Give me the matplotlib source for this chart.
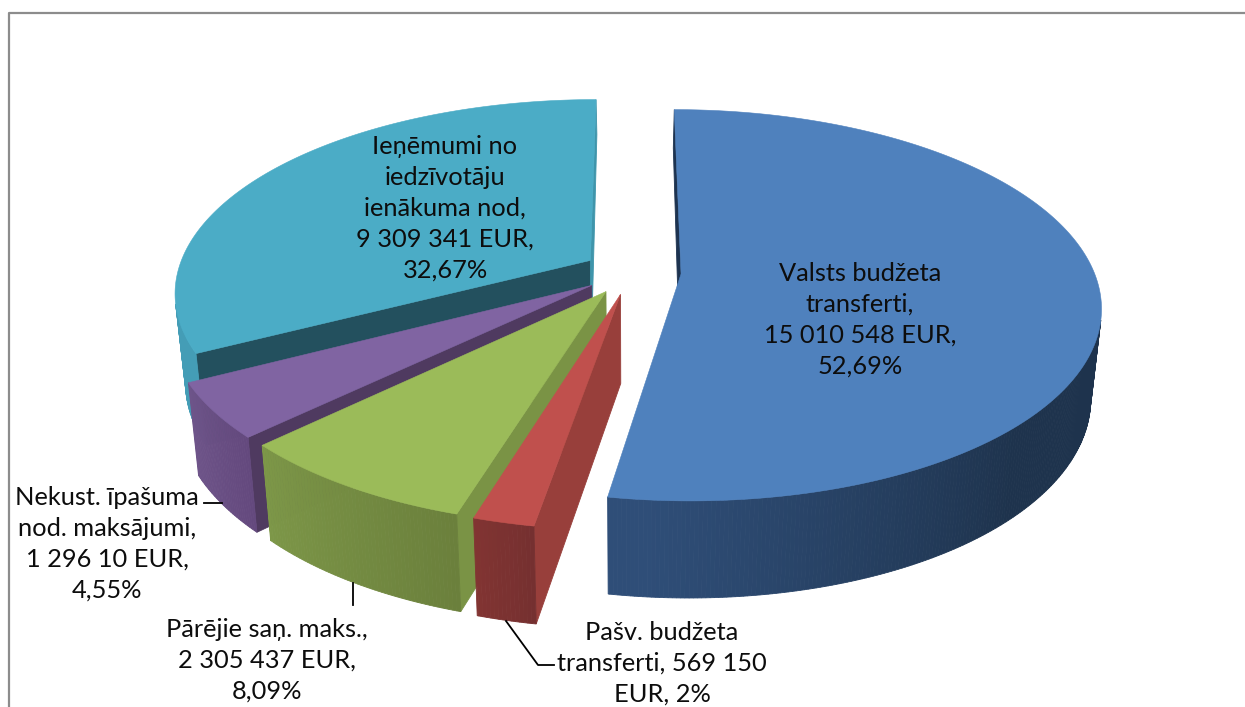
#!/usr/bin/env python
# -*- coding: utf-8 -*-

import numpy as np
from matplotlib import pyplot as plt
from matplotlib.colors import to_rgb

plt.rcParams['font.family'] = ['Lato', 'Noto Sans', 'DejaVu Sans']

# budget shares in percent, clockwise from 12 o'clock
names = ['Valsts budžeta\ntransferti,', 'Pašv. budžeta\ntransferti,', 'Pārējie saņ. maks.,',
         'Nekust. īpašuma\nnod. maksājumi,', 'Ieņēmumi no\niedzīvotāju\nienākuma nod,']
amounts = ['15 010 548 EUR,', '569 150', '2 305 437 EUR,', '1 296 10 EUR,', '9 309 341 EUR,']
percents = ['52,69%', 'EUR, 2%', '8,09%', '4,55%', '32,67%']
shares = [52.69, 2, 8.09, 4.55, 32.67]

top_colors = ['#4f81bd', '#c0504d', '#9bbb59', '#8064a2', '#4bacc6']
cut_colors = ['#1d3350', '#983f3b', '#7a9345', '#4f3a60', '#23505e']
end_colors = ['#1d3350', '#983f3b', '#7a9345', '#4f3a60', '#3f95ab']
wall_left = ['#2f4e78', '#823432', '#7d9748', '#6e5489', '#449db6']
wall_right = ['#1e334d', '#753030', '#6b803c', '#64497e', '#449db6']

# label centres and leader lines, in pixels
label_pos = [(860, 320), (662, 663), (267, 660), (107, 544), (445, 208)]
leaders = [None, [(506, 621), (538, 665), (554, 665)], [(353, 583), (353, 605)],
           [(204, 503), (222, 503)], None]

# projection of the tilted pie
cx, cy = 632, 272
rx, ry = 413, 190
persp = 0.16
explode = 0.119
shrink = 0.977


def project(u, v):
    s = 1 / (1 + persp * v)
    return cx + rx * u * s, cy - ry * v * s


def lower(u, v):
    # same point on the underside of the pie
    x, y = project(u, v)
    if v > 0:
        d = 88 - 50 * v
    else:
        d = 88 - 9 * v
    return cx + (x - cx) * shrink, y + d


def visible(quad):
    # quad is wound so that faces turned to the viewer have a negative area (y points down)
    xs = np.array([p[0] for p in quad])
    ys = np.array([p[1] for p in quad])
    return np.dot(xs, np.roll(ys, -1)) - np.dot(ys, np.roll(xs, -1)) < 0


def draw_quad(ax, quad, color):
    ax.fill([p[0] for p in quad], [p[1] for p in quad], color=color, lw=0.6, zorder=2)


def draw_slice(ax, start, end, i):
    mid = np.radians((start + end) / 2)
    u0, v0 = explode * np.sin(mid), explode * np.cos(mid)
    degs = np.append(np.arange(start, end, 0.5), end)
    angles = np.radians(degs)
    us = u0 + np.sin(angles)
    vs = v0 + np.cos(angles)

    # cut faces
    a = [project(u0, v0), project(us[0], vs[0]), lower(us[0], vs[0]), lower(u0, v0)]
    b = [project(us[-1], vs[-1]), project(u0, v0), lower(u0, v0), lower(us[-1], vs[-1])]
    if visible(a):
        draw_quad(ax, a, cut_colors[i])
    if visible(b):
        draw_quad(ax, b, end_colors[i])

    # rim
    left = np.array(to_rgb(wall_left[i]))
    right = np.array(to_rgb(wall_right[i]))
    for j in range(len(us) - 1):
        quad = [project(us[j], vs[j]), project(us[j + 1], vs[j + 1]),
                lower(us[j + 1], vs[j + 1]), lower(us[j], vs[j])]
        if not visible(quad):
            continue
        if i == 0:
            # blue rim is lit only near its left end
            t = np.clip((degs[j] - 135) / 50, 0, 1)
        else:
            t = j / max(len(us) - 2, 1)
        draw_quad(ax, quad, tuple(right + (left - right) * t))

    # top face
    pts = [project(u0, v0)] + [project(u, v) for u, v in zip(us, vs)]
    ax.fill([p[0] for p in pts], [p[1] for p in pts], color=top_colors[i], lw=0.4, zorder=2)


fig = plt.figure(figsize=(12.45, 7.07), dpi=100)
ax = fig.add_axes([0, 0, 1, 1])
ax.set_xlim(0, 1245)
ax.set_ylim(707, 0)
ax.axis('off')

# frame of the chart area, cut by the edge of the picture
ax.plot([9, 9, 1245], [707, 12.5, 12.5], color='#8c8c8c', lw=1.6, zorder=1)

edges = np.cumsum([0] + shares) * 3.6
for i in [4, 0, 3, 2, 1]:
    draw_slice(ax, edges[i], edges[i + 1], i)

for i in range(len(names)):
    if i == 1:
        text = names[i] + ' ' + amounts[i] + '\n' + percents[i]
    else:
        text = names[i] + '\n' + amounts[i] + '\n' + percents[i]
    ax.text(label_pos[i][0], label_pos[i][1], text, ha='center', va='center', fontsize=18.3,
            linespacing=1.42, color='#0d0d0d', zorder=5)
    if leaders[i] is not None:
        ax.plot([p[0] for p in leaders[i]], [p[1] for p in leaders[i]], color='black', lw=1.3, zorder=4)

fig.savefig('out.png', dpi=100)
